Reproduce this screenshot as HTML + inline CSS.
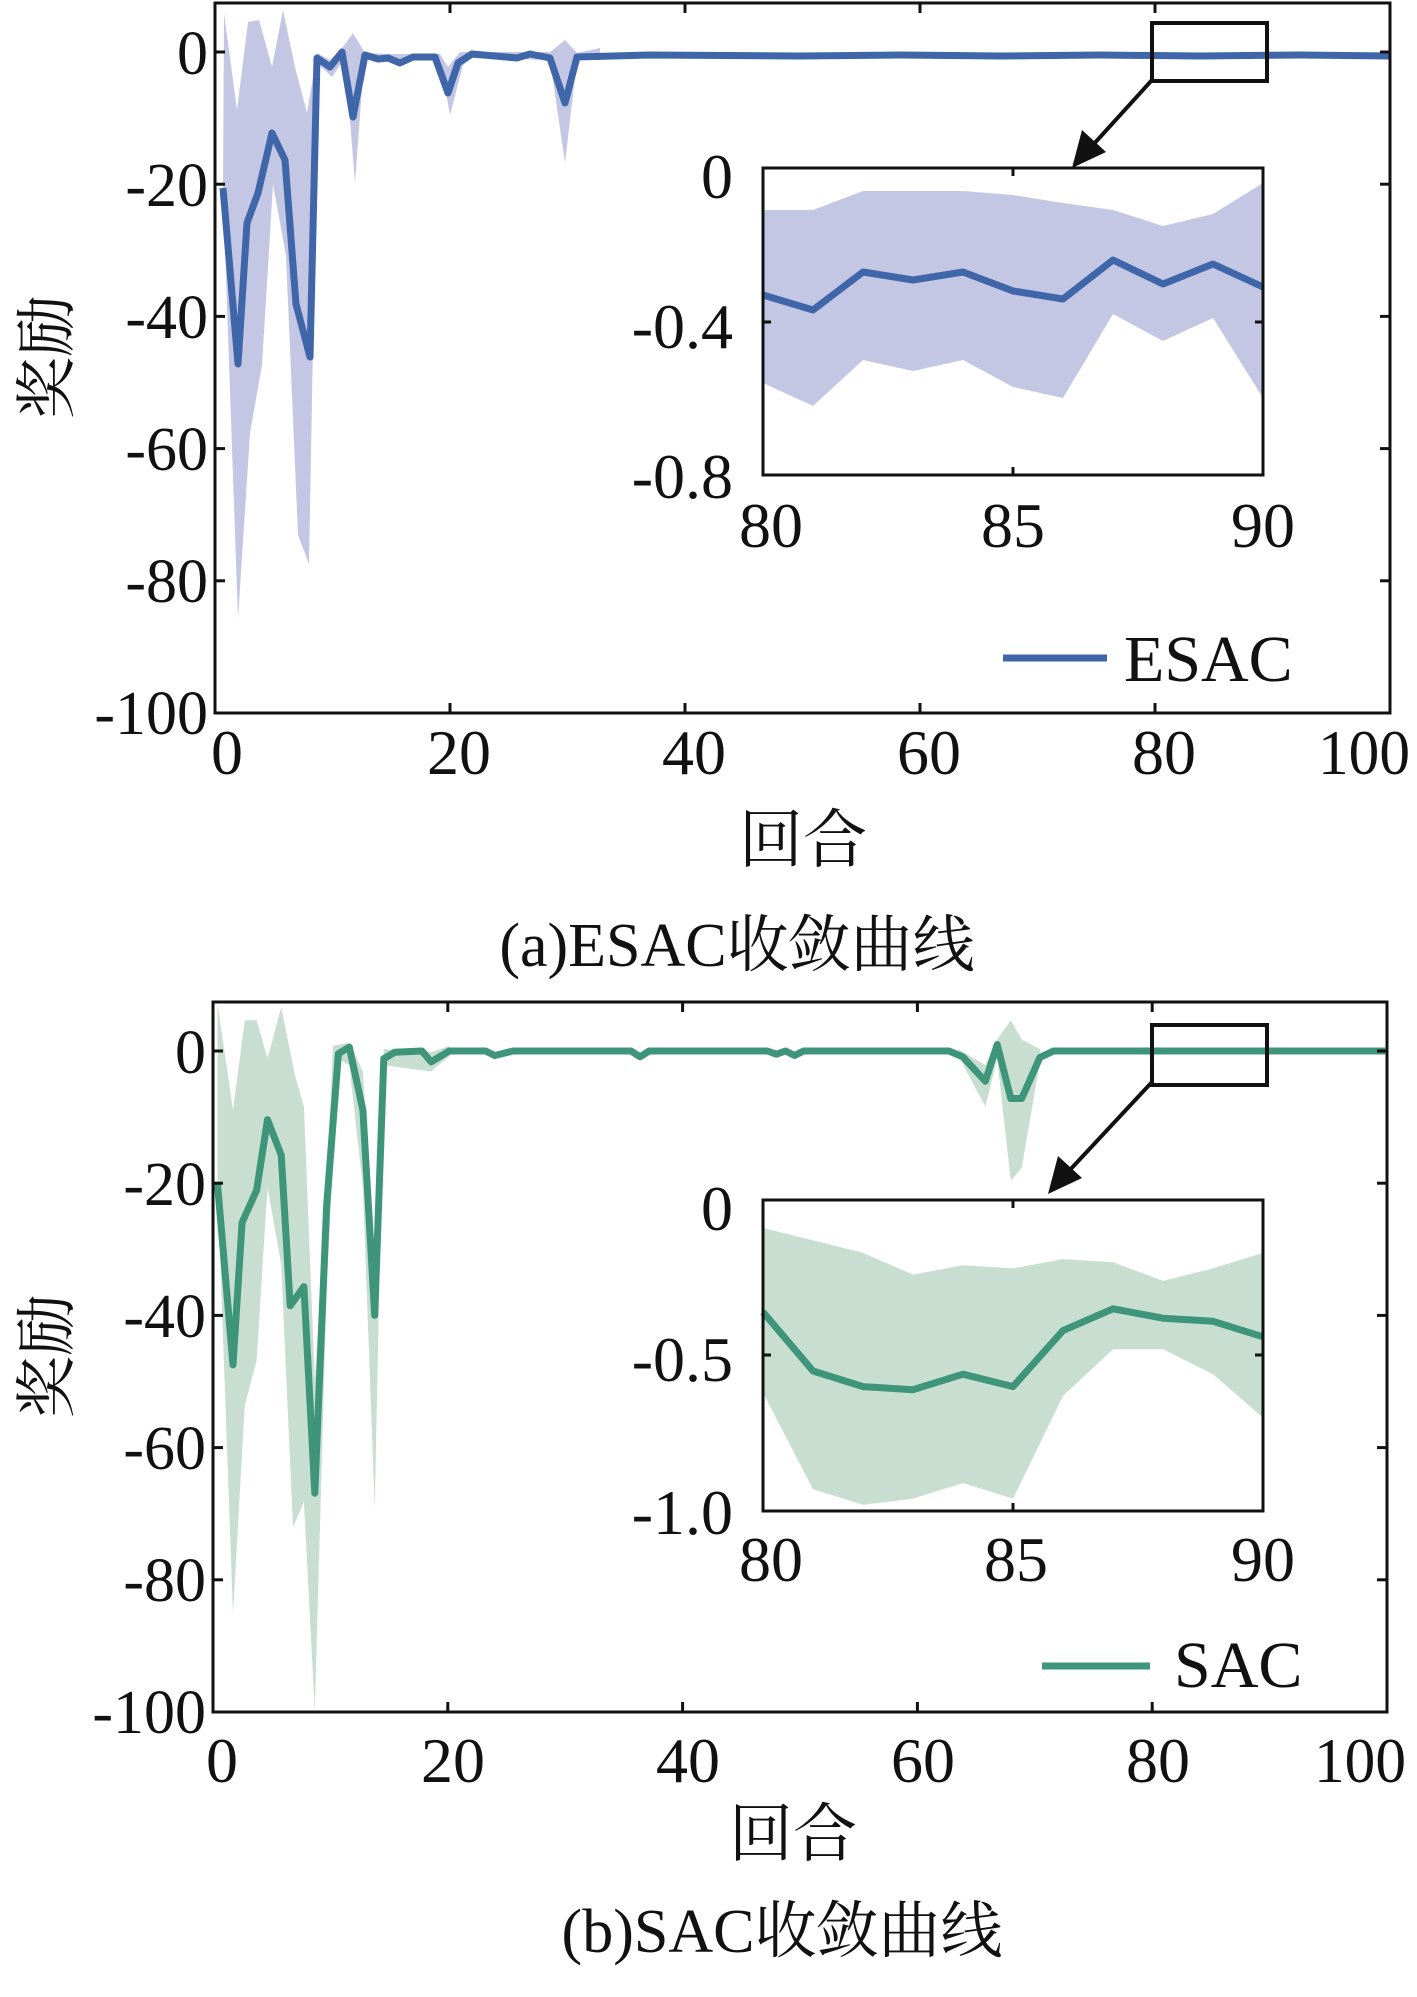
<!DOCTYPE html>
<html><head><meta charset="utf-8"><style>
html,body{margin:0;padding:0;background:#fff}
svg{display:block}
text{font-family:"Liberation Serif","Noto Serif CJK SC","Noto Sans CJK SC",serif;fill:#111}
</style></head><body>
<svg id="s" width="1417" height="1997" viewBox="0 0 1417 1997" xmlns="http://www.w3.org/2000/svg">
<g id="top">
<polygon fill="#c4c7e3" points="224,13 237,110 248,22 259,20 272,67 283,10 295,67 307,113 317,53 330,60 342,48 353,33 365,53 388,54 440,54 448,67 460,52 550,52 565,40 577,53 600,48 600,60 577,60 565,163 550,60 472,58 463,65 450,115 440,60 370,60 364,61 355,183 345,58 332,77 318,64 309,564 298,535 286,256 273,184 262,365 250,433 238,619 223,192"/>
<polyline fill="none" stroke="#3f66a8" stroke-width="7" stroke-linejoin="round" points="223,188 238,364 247,223 258,193 272,133 285,160 296,304 310,357 317,58 330,67 342,52 353,117 365,55 378,59 388,58 400,63 413,57 435,57 448,93 458,63 472,54 517,58 530,54 550,58 565,103 577,57 650,55 800,56 900,55 1000,56 1100,55 1200,56 1300,55 1390,56"/>
<rect x="215" y="3" width="1175" height="710" fill="none" stroke="#111" stroke-width="3"/>
<g stroke="#111" stroke-width="3" id="t1"></g>
<g font-size="62" text-anchor="end">
<text x="208" y="74">0</text><text x="208" y="206">-20</text><text x="208" y="338">-40</text><text x="208" y="470">-60</text><text x="208" y="602">-80</text><text x="208" y="734">-100</text>
</g>
<g font-size="64" text-anchor="middle">
<text x="227" y="774">0</text><text x="459" y="774">20</text><text x="694" y="774">40</text><text x="929" y="774">60</text><text x="1164" y="774">80</text><text x="1364" y="774" textLength="92" lengthAdjust="spacingAndGlyphs">100</text>
</g>
<text x="803" y="862" font-size="64" text-anchor="middle">回合</text>
<text transform="translate(68,357) rotate(-90)" font-size="62" text-anchor="middle">奖励</text>
<text x="737" y="966" font-size="62" text-anchor="middle">(a)ESAC收敛曲线</text>
<rect x="1152" y="23" width="115" height="58" fill="none" stroke="#111" stroke-width="4"/>
<line x1="1152" y1="80" x2="1092" y2="146" stroke="#111" stroke-width="4"/>
<polygon points="1072,168 1082,130 1106,152" fill="#111"/>
<rect x="763" y="168" width="500" height="307" fill="#fff"/>
<polygon fill="#c4c7e3" points="763,210 813,210 863,191 913,191 963,191 1013,195 1063,203 1113,210 1163,226 1213,214 1263,183 1263,398 1213,318 1163,341 1113,314 1063,398 1013,387 963,360 913,371 863,360 813,406 763,383"/>
<polyline fill="none" stroke="#3f66a8" stroke-width="7" stroke-linejoin="round" points="763,295 813,310 863,272 913,280 963,272 1013,291 1063,299 1113,260 1163,284 1213,264 1263,287"/>
<rect x="763" y="168" width="500" height="307" fill="none" stroke="#111" stroke-width="3"/>
<g stroke="#111" stroke-width="3">
<line x1="1013" y1="168" x2="1013" y2="176"/><line x1="1013" y1="475" x2="1013" y2="467"/>
<line x1="763" y1="322" x2="771" y2="322"/><line x1="1263" y1="322" x2="1255" y2="322"/>
</g>
<g font-size="64" text-anchor="end">
<text x="733" y="198">0</text><text x="733" y="348">-0.4</text><text x="733" y="498">-0.8</text>
</g>
<g font-size="64" text-anchor="middle">
<text x="771" y="547">80</text><text x="1013" y="547">85</text><text x="1263" y="547">90</text>
</g>
<line x1="1003" y1="658" x2="1107" y2="658" stroke="#3f66a8" stroke-width="7"/>
<text x="1124" y="681" font-size="66">ESAC</text>
</g>

<g>
<polygon id="bandB" fill="#c8ded0"/>
<polygon id="bandB2" fill="#c8ded0"/>
<polyline id="lineB" fill="none" stroke="#3f957a" stroke-width="7" stroke-linejoin="round"/>
<rect x="213" y="1002" width="1174" height="710" fill="none" stroke="#111" stroke-width="3"/>
<g stroke="#111" stroke-width="3" id="t2"></g>
<g font-size="62" text-anchor="end">
<text x="206" y="1073">0</text><text x="206" y="1205">-20</text><text x="206" y="1337">-40</text><text x="206" y="1469">-60</text><text x="206" y="1601">-80</text><text x="206" y="1733">-100</text>
</g>
<g font-size="64" text-anchor="middle">
<text x="222" y="1782">0</text><text x="453" y="1782">20</text><text x="688" y="1782">40</text><text x="923" y="1782">60</text><text x="1158" y="1782">80</text><text x="1360" y="1782" textLength="92" lengthAdjust="spacingAndGlyphs">100</text>
</g>
<text x="793" y="1856" font-size="64" text-anchor="middle">回合</text>
<text transform="translate(68,1356) rotate(-90)" font-size="62" text-anchor="middle">奖励</text>
<text x="782" y="1952" font-size="62" text-anchor="middle">(b)SAC收敛曲线</text>
<rect x="1152" y="1025" width="115" height="60" fill="none" stroke="#111" stroke-width="4"/>
<line x1="1152" y1="1082" x2="1068" y2="1172" stroke="#111" stroke-width="4"/>
<polygon points="1048,1194 1058,1156 1082,1178" fill="#111"/>
<rect x="763" y="1200" width="500" height="311" fill="#fff"/>
<polygon id="ibandB" fill="#c8ded0"/>
<polyline id="ilineB" fill="none" stroke="#3f957a" stroke-width="7" stroke-linejoin="round"/>
<rect x="763" y="1200" width="500" height="311" fill="none" stroke="#111" stroke-width="3"/>
<g stroke="#111" stroke-width="3">
<line x1="1013" y1="1200" x2="1013" y2="1208"/><line x1="1013" y1="1511" x2="1013" y2="1503"/>
<line x1="763" y1="1355" x2="771" y2="1355"/><line x1="1263" y1="1355" x2="1255" y2="1355"/>
</g>
<g font-size="64" text-anchor="end">
<text x="733" y="1230">0</text><text x="733" y="1381">-0.5</text><text x="733" y="1534">-1.0</text>
</g>
<g font-size="64" text-anchor="middle">
<text x="771" y="1581">80</text><text x="1016" y="1581">85</text><text x="1263" y="1581">90</text>
</g>
<line x1="1042" y1="1666" x2="1150" y2="1666" stroke="#3f957a" stroke-width="7"/>
<text x="1174" y="1687" font-size="66">SAC</text>
</g>
</svg>
<script>
function ticks(id,L,R,T,B,x0,dx,y0,dy){var g=document.getElementById(id),h='';
for(var i=0;i<=5;i++){var x=x0+i*dx;h+='<line x1="'+x+'" y1="'+B+'" x2="'+x+'" y2="'+(B-10)+'"/><line x1="'+x+'" y1="'+T+'" x2="'+x+'" y2="'+(T+10)+'"/>';
var y=y0+i*dy;h+='<line x1="'+L+'" y1="'+y+'" x2="'+(L+10)+'" y2="'+y+'"/><line x1="'+R+'" y1="'+y+'" x2="'+(R-10)+'" y2="'+y+'"/>';}
g.innerHTML=h;}
ticks('t1',215,1390,3,713,215,235,52,132.2);
ticks('t2',213,1387,1002,1712,213,234.8,1051,132.2);
function T(p){var o=[];for(var i=0;i<p.length;i+=2){o.push((213+(p[i]-240)/1.1005).toFixed(1)+','+(1051+(p[i+1]-88)/1.558).toFixed(1));}return o;}
var line=[245,295,262,577,272,355,288,305,300,195,315,250,325,485,340,455,352,777,365,330,378,92,390,82,405,180,418,500,428,100,440,90,470,88,480,105,500,88,540,88,550,95,570,88,700,88,710,97,720,88,850,88,860,93,870,88,880,95,890,88,1050,88,1065,97,1090,135,1103,78,1118,162,1130,162,1150,98,1165,88,1530,88];
document.getElementById('lineB').setAttribute('points',T(line).join(' '));
var up=[245,15,262,180,275,40,288,40,300,100,315,20,330,125,340,175,352,600,365,300,372,80,390,75,405,120,418,400,428,85,480,90,500,80];
var lo=[245,295,262,965,275,640,288,570,300,300,315,420,328,830,340,790,352,1115,365,460,378,100,390,110,405,300,418,800,428,110,480,120,500,96];
function band(u,l){var a=T(u),b=T(l).reverse();return a.concat(b).join(' ');}
document.getElementById('bandB').setAttribute('points',band(up,lo));
document.getElementById('bandB2').setAttribute('points',band([1060,85,1090,110,1103,70,1118,40,1130,70,1150,85],[1060,95,1090,175,1103,100,1118,290,1130,270,1150,105]));
function I(v){var o=[];for(var i=0;i<v.length;i++)o.push((763+50*i)+','+(1200-v[i]*311).toFixed(1));return o;}
var il=[-0.36,-0.55,-0.6,-0.61,-0.56,-0.6,-0.42,-0.35,-0.38,-0.39,-0.44];
var iu=[-0.09,-0.13,-0.17,-0.24,-0.21,-0.22,-0.19,-0.2,-0.26,-0.22,-0.17];
var ilo=[-0.62,-0.93,-0.98,-0.96,-0.91,-0.96,-0.63,-0.48,-0.48,-0.56,-0.7];
document.getElementById('ilineB').setAttribute('points',I(il).join(' '));
document.getElementById('ibandB').setAttribute('points',I(iu).concat(I(ilo).reverse()).join(' '));
</script>
</body></html>
